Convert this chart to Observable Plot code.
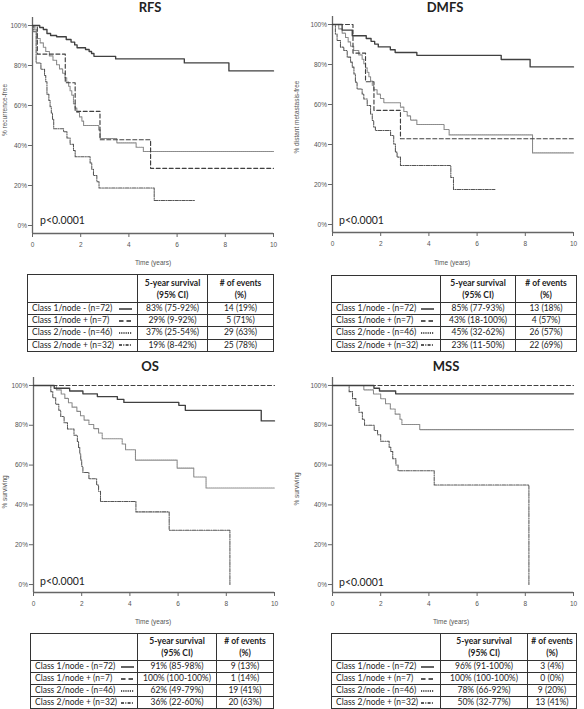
<!DOCTYPE html>
<html><head><meta charset="utf-8">
<script src="https://cdn.jsdelivr.net/npm/d3@7"></script>
<script src="https://cdn.jsdelivr.net/npm/@observablehq/plot@0.6"></script>
<style>
body{margin:0;background:#fff;}
#root{position:relative;width:584px;height:709px;overflow:hidden;font-family:Lato,"Open Sans",sans-serif;}
.plotbox{position:absolute;}
.title{position:absolute;width:120px;margin-left:-60px;text-align:center;font-weight:bold;font-size:13px;color:#222;line-height:14px;}
.xlab,.ylab{position:absolute;font-family:"Liberation Sans",Arial,sans-serif;font-size:6.5px;color:#555;white-space:nowrap;line-height:8px;}
.xlab{transform:translate(-50%,-50%);}
.ylab{transform:translate(-50%,-50%) rotate(-90deg);}
.pval{position:absolute;font-size:10.5px;color:#222;line-height:12px;transform:translateY(-50%);}
table.kt{position:absolute;border-collapse:collapse;table-layout:fixed;font-size:8.5px;color:#222;border:1.3px solid #333;}
table.kt td{border:1px solid #333;padding:0;overflow:hidden;white-space:nowrap;line-height:11px;}
table.kt td.c{text-align:center;}
table.kt tr.h td{font-weight:bold;line-height:12px;}
table.kt td .lab{position:relative;padding-left:4px;}
table.kt td svg{position:absolute;top:2.5px;}
</style>
</head><body><div id="root"></div>
<script>
// ---------- axis ticks ----------
const xTicks = [0, 2, 4, 6, 8, 10];
const yTicks = [0, 20, 40, 60, 80, 100];

// ---------- groups ----------
const groups = ["Class 1/node - (n=72)", "Class 1/node + (n=7)", "Class 2/node - (n=46)", "Class 2/node + (n=32)"];

// ---------- RFS curves [years, % recurrence-free] ----------
const rfsC1Neg = [[0,100],[0.3,99],[0.45,98],[0.6,96],[0.75,95],[1.0,94.4],[1.4,93],[1.6,91.7],[1.75,90.3],[1.85,88.9],[2.2,88],[2.35,87],[2.45,86],[2.55,84.6],[3.45,83.3],[6.3,81.3],[8.15,77.3],[10,77.3]];
const rfsC1Pos = [[0,100],[0.2,85.7],[1.36,71.4],[1.77,57.1],[2.8,42.9],[4.9,28.6],[10,28.6]];
const rfsC2Neg = [[0,100],[0.1,97.8],[0.18,93.5],[0.32,91.3],[0.45,89.1],[0.55,87],[0.7,84.8],[0.85,82.6],[1.0,80.4],[1.12,78.3],[1.25,76.1],[1.35,73.9],[1.42,71.7],[1.5,69.6],[1.56,67.4],[1.63,65.2],[1.7,60.9],[1.77,58.7],[1.84,56.5],[1.95,54.3],[2.05,52.2],[2.12,50],[2.75,47.8],[2.81,43.5],[3.5,41.3],[4.3,39.1],[4.6,37],[10,37]];
const rfsC2Pos = [[0,100],[0.05,96.9],[0.15,81.3],[0.35,78.1],[0.5,75],[0.55,71.9],[0.6,65.6],[0.68,62.5],[0.73,59.4],[0.78,56.3],[0.83,53.1],[0.88,48.4],[1.29,46.9],[1.43,43.8],[1.56,40.6],[1.7,37.5],[1.77,34.4],[2.39,31.3],[2.46,28.1],[2.53,25],[2.67,21.9],[2.76,18.8],[5.05,12.5],[6.75,12.5]];

// ---------- DMFS curves ----------
const dmfsC1Neg = [[0,100],[0.4,97.2],[0.82,94.4],[1.4,93],[1.6,91.6],[1.75,90.2],[1.9,88.8],[2.4,87.4],[2.6,86],[3.5,84.6],[7.0,82.5],[8.2,78.8],[10,78.8]];
const dmfsC1Pos = [[0,100],[0.85,85.7],[1.37,71.4],[1.72,57.1],[2.82,42.9],[10,42.9]];
const dmfsC2Neg = [[0,100],[0.26,97.8],[0.4,95.7],[0.54,93.5],[0.65,91.3],[0.75,89.1],[0.88,87],[1.09,84.8],[1.23,82.6],[1.3,80.4],[1.37,78.3],[1.44,76.1],[1.51,73.9],[1.58,71.7],[1.65,69.6],[1.71,67.4],[1.85,65.2],[1.99,63],[2.13,60.9],[2.82,58.7],[2.96,56.5],[3.1,54.3],[3.24,52.2],[3.5,50],[4.63,47.5],[4.84,44.8],[8.3,35.8],[10,35.8]];
const dmfsC2Pos = [[0,100],[0.12,95.3],[0.19,92],[0.33,88.7],[0.47,87],[0.61,83.7],[0.75,81.2],[0.82,78.7],[0.89,75.3],[0.95,71.2],[1.02,67.8],[1.23,65.3],[1.3,62.8],[1.44,59.5],[1.58,55.3],[1.65,52],[1.71,48.7],[1.78,47],[2.41,44.5],[2.54,40.3],[2.61,36.2],[2.68,33.7],[2.82,29.5],[4.91,23.5],[5.02,17.5],[6.74,17.5]];

// ---------- OS curves ----------
const osC1Neg = [[0,100],[0.86,98.6],[1.5,97.2],[2.05,95.8],[2.65,94.4],[3.48,93],[3.75,91.5],[6.03,90],[6.3,87.5],[9.45,82.2],[10,82.2]];
const osC1Pos = [[0,100],[10,100]];
const osC2Neg = [[0,100],[0.95,97.8],[1.15,95.7],[1.3,93.5],[1.45,91.3],[1.6,89.1],[1.8,87],[1.95,84.8],[2.1,82.6],[2.3,80.4],[2.5,78.3],[2.7,76.1],[2.85,73.2],[3.68,70.6],[3.82,67.7],[4.23,62.5],[5.96,58.5],[6.65,54],[7.16,48.5],[10,48.5]];
const osC2Pos = [[0,100],[0.72,96.9],[0.8,93.8],[0.92,90.6],[1.05,87.5],[1.13,84.4],[1.27,81.3],[1.41,78.1],[1.68,75],[1.82,71.9],[1.87,68.8],[1.92,65.6],[1.96,62.5],[2.0,59.4],[2.05,56.3],[2.3,53.1],[2.62,50],[2.7,46.9],[2.78,41.7],[4.25,36.5],[5.63,27.3],[8.15,0]];

// ---------- MSS curves ----------
const mssC1Neg = [[0,100],[1.72,98.6],[1.95,97.2],[2.62,95.8],[10,95.8]];
const mssC1Pos = [[0,100],[10,100]];
const mssC2Neg = [[0,100],[1.3,97.8],[1.7,95.7],[2.0,93.3],[2.2,90.8],[2.4,88.2],[2.6,85.6],[2.8,83],[2.88,80.4],[3.62,77.8],[10,77.8]];
const mssC2Pos = [[0,100],[0.69,96.9],[0.83,93.4],[0.97,89.9],[1.1,86.5],[1.24,83],[1.33,80],[1.73,77.4],[1.87,75.2],[2.0,72],[2.35,69],[2.42,66.8],[2.5,63.2],[2.63,60],[2.72,57.2],[4.22,50],[8.15,0]];

// ---------- table values ----------
const rfsSurv5 = ["83% (75-92%)", "29% (9-92%)", "37% (25-54%)", "19% (8-42%)"];
const rfsEvents = ["14 (19%)", "5 (71%)", "29 (63%)", "25 (78%)"];
const dmfsSurv5 = ["85% (77-93%)", "43% (18-100%)", "45% (32-62%)", "23% (11-50%)"];
const dmfsEvents = ["13 (18%)", "4 (57%)", "26 (57%)", "22 (69%)"];
const osSurv5 = ["91% (85-98%)", "100% (100-100%)", "62% (49-79%)", "36% (22-60%)"];
const osEvents = ["9 (13%)", "1 (14%)", "19 (41%)", "20 (63%)"];
const mssSurv5 = ["96% (91-100%)", "100% (100-100%)", "78% (66-92%)", "50% (32-77%)"];
const mssEvents = ["3 (4%)", "0 (0%)", "9 (20%)", "13 (41%)"];

const headSurv = ["5-year survival", "(95% CI)"];
const headEvents = ["# of events", "(%)"];
const pText = "p<0.0001";
const xLabel = "Time (years)";

// ---------- styles per group ----------
const groupStyles = [
  {stroke: "#404040", strokeWidth: 1.35, dash: null, sw: null},
  {stroke: "#404040", strokeWidth: 1.15, dash: "4,2.5", sw: "4.5,3"},
  {stroke: "#8a8a8a", strokeWidth: 1.1, dash: "1.3,0.7", sw: "1.2,1"},
  {stroke: "#555", strokeWidth: 1.05, dash: "3.5,1.2,1,1.2", sw: "3,1.3,1,1.3"}
];
const drawOrder = [2, 3, 1, 0];

const panels = [
  {title: "RFS", ylab: "% recurrence-free", curves: [rfsC1Neg, rfsC1Pos, rfsC2Neg, rfsC2Pos], surv: rfsSurv5, ev: rfsEvents,
   left: 0, top: 0, mL: 32, mR: 19, mT: 17, mB: 35, titleX: 150, titleY: 0, ylabX: 5, ylabY: 110, xlabX: 153, xlabY: 263, pX: 40, pY: 220,
   tab: {left: 27, top: 274, widths: [110, 70, 66], headH: 28, rowH: 12.2, swX: 91}},
  {title: "DMFS", ylab: "% distant metastasis-free", curves: [dmfsC1Neg, dmfsC1Pos, dmfsC2Neg, dmfsC2Pos], surv: dmfsSurv5, ev: dmfsEvents,
   left: 292, top: 0, mL: 40, mR: 11, mT: 16, mB: 36, titleX: 445, titleY: 0, ylabX: 297, ylabY: 117, xlabX: 452, xlabY: 263, pX: 339, pY: 220,
   tab: {left: 331, top: 275, widths: [109, 75, 61], headH: 27, rowH: 12.2, swX: 89}},
  {title: "OS", ylab: "% surviving", curves: [osC1Neg, osC1Pos, osC2Neg, osC2Pos], surv: osSurv5, ev: osEvents,
   left: 0, top: 355, mL: 33, mR: 18, mT: 22, mB: 31, titleX: 150, titleY: 359, ylabX: 5, ylabY: 492, xlabX: 153, xlabY: 622, pX: 40, pY: 581,
   tab: {left: 30, top: 633, widths: [107, 79, 57], headH: 27, rowH: 12, swX: 90}},
  {title: "MSS", ylab: "% surviving", curves: [mssC1Neg, mssC1Pos, mssC2Neg, mssC2Pos], surv: mssSurv5, ev: mssEvents,
   left: 292, top: 355, mL: 40, mR: 11, mT: 22, mB: 31, titleX: 446, titleY: 359, ylabX: 297, ylabY: 489, xlabX: 451, xlabY: 622, pX: 339, pY: 582,
   tab: {left: 331, top: 633, widths: [109, 87, 49], headH: 27, rowH: 12, swX: 89}}
];

const root = document.getElementById("root");
const AXC = "#666";
const yLo = -4, yHi = 104;

function addDiv(cls, text, left, top) {
  const d = document.createElement("div");
  d.className = cls; d.textContent = text;
  d.style.left = left + "px"; d.style.top = top + "px";
  root.appendChild(d); return d;
}

function swatch(gi) {
  const s = groupStyles[gi];
  return `<svg width="14" height="6"><line x1="0" x2="13" y1="3" y2="3" stroke="#222" stroke-width="${gi === 0 ? 1.4 : 1.3}" ${s.sw ? `stroke-dasharray="${s.sw}"` : ""}/></svg>`;
}

for (const p of panels) {
  const lineMarks = drawOrder.map(gi => Plot.line(p.curves[gi], {
    x: d => d[0], y: d => d[1], curve: "step-after",
    stroke: groupStyles[gi].stroke, strokeWidth: groupStyles[gi].strokeWidth,
    strokeDasharray: groupStyles[gi].dash
  }));
  const chart = Plot.plot({
    width: 292, height: 268,
    marginLeft: p.mL, marginRight: p.mR, marginTop: p.mT, marginBottom: p.mB,
    x: {domain: [0, 10]},
    y: {domain: [yLo, yHi]},
    style: {fontFamily: '"Liberation Sans", Arial, sans-serif', fontSize: "6.5px", color: "#555", background: "transparent", overflow: "visible"},
    marks: [
      Plot.axisY({ticks: yTicks, tickFormat: d => d + "%", tickSize: 4, tickPadding: 1.5, label: null, stroke: AXC, strokeWidth: 1}),
      Plot.axisX({ticks: xTicks, tickFormat: d => String(d), tickSize: 4, tickPadding: 5, label: null, stroke: AXC, strokeWidth: 1}),
      Plot.ruleX([0], {y1: yLo, y2: yHi, stroke: AXC, strokeWidth: 1.3}),
      Plot.ruleY([yLo], {x1: 0, x2: 10, stroke: AXC, strokeWidth: 1.3}),
      ...lineMarks
    ]
  });
  const box = document.createElement("div");
  box.className = "plotbox";
  box.style.left = p.left + "px"; box.style.top = p.top + "px";
  box.appendChild(chart);
  root.appendChild(box);

  addDiv("title", p.title, p.titleX, p.titleY);
  addDiv("ylab", p.ylab, p.ylabX, p.ylabY);
  addDiv("xlab", xLabel, p.xlabX, p.xlabY);
  addDiv("pval", pText, p.pX, p.pY);

  // table
  const t = p.tab;
  const tw = t.widths.reduce((a, b) => a + b, 0);
  let html = `<colgroup>${t.widths.map(w => `<col style="width:${w}px">`).join("")}</colgroup>`;
  html += `<tr class="h" style="height:${t.headH}px"><td></td><td class="c">${headSurv.join("<br>")}</td><td class="c">${headEvents.join("<br>")}</td></tr>`;
  groups.forEach((g, i) => {
    html += `<tr style="height:${t.rowH}px"><td><div class="lab">${g}<span style="position:absolute;left:${t.swX}px;top:0">${swatch(i)}</span></div></td><td class="c">${p.surv[i]}</td><td class="c">${p.ev[i]}</td></tr>`;
  });
  const tbl = document.createElement("table");
  tbl.className = "kt";
  tbl.style.left = t.left + "px"; tbl.style.top = t.top + "px"; tbl.style.width = tw + "px";
  tbl.innerHTML = html;
  root.appendChild(tbl);
}
</script>
</body></html>
